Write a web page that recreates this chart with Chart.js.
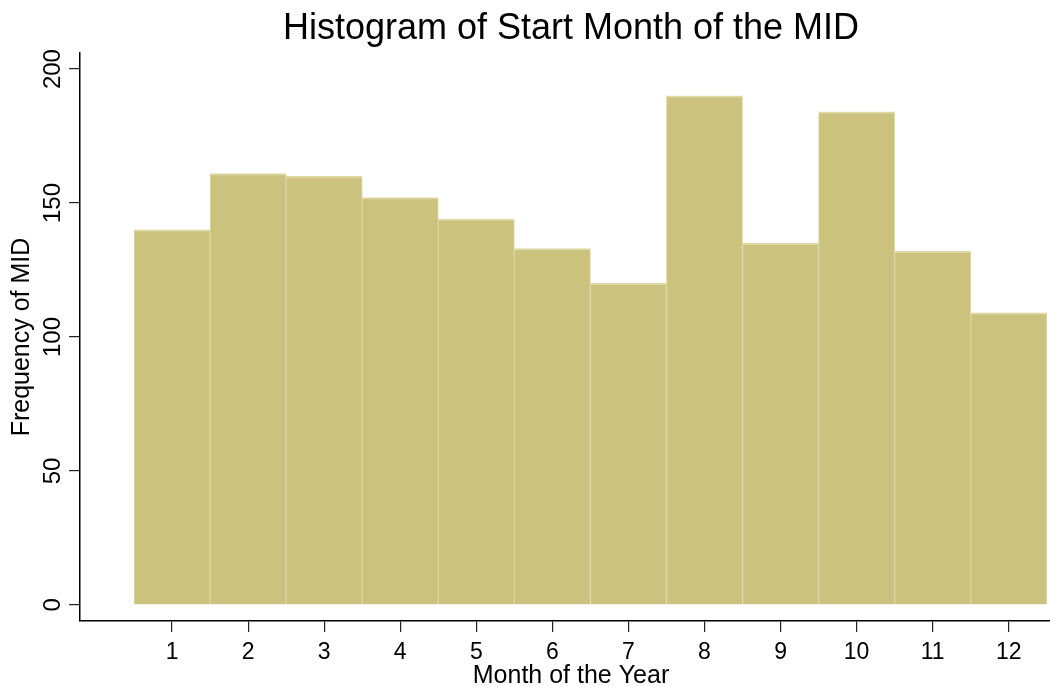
<!DOCTYPE html>
<html>
<head>
<meta charset="utf-8">
<title>Histogram of Start Month of the MID</title>
<script src="https://cdn.jsdelivr.net/npm/chart.js@4"></script>
<style>
    html, body { margin: 0; padding: 0; background: #fff; overflow: hidden; }
    #wrap { width: 1062px; height: 687px; }
</style>
</head>
<body>
<div id="wrap"><canvas id="histChart"></canvas></div>
<script>
const months = [1, 2, 3, 4, 5, 6, 7, 8, 9, 10, 11, 12];
const counts = [140, 161, 160, 152, 144, 133, 120, 190, 135, 184, 132, 109];
const yTicks = [0, 50, 100, 150, 200];

const FONT = '"Liberation Sans", Arial, Helvetica, sans-serif';

// Stata style: title over the plot region, y tick labels turned on their side
const stataText = {
    id: 'stataText',
    afterDraw(chart) {
        const ctx = chart.ctx;
        const area = chart.chartArea;
        const y = chart.scales.y;
        ctx.save();
        ctx.fillStyle = '#000';
        ctx.font = '36px ' + FONT;
        ctx.textAlign = 'center';
        ctx.textBaseline = 'alphabetic';
        ctx.fillText('Histogram of Start Month of the MID', (area.left + area.right) / 2, 39);

        ctx.font = '24px ' + FONT;
        yTicks.forEach(v => {
            ctx.save();
            ctx.translate(60, y.getPixelForValue(v));
            ctx.rotate(-Math.PI / 2);
            ctx.fillText(String(v), 0, 0);
            ctx.restore();
        });
        ctx.restore();
    }
};

new Chart(document.getElementById('histChart'), {
    type: 'bar',
    data: {
        datasets: [{
            label: 'Frequency of MID',
            data: months.map((m, i) => ({ x: m, y: counts[i] })),
            backgroundColor: '#cbc27e',
            borderColor: '#ddd7a2',
            borderWidth: { top: 2, left: 1, right: 1, bottom: 0 },
            borderSkipped: false,
            barPercentage: 1,
            categoryPercentage: 1
        }]
    },
    options: {
        responsive: true,
        maintainAspectRatio: false,
        animation: false,
        layout: { padding: { top: 53, right: 0, bottom: 0, left: 0 } },
        plugins: {
            legend: { display: false },
            title: { display: false },
            tooltip: { enabled: false }
        },
        scales: {
            x: {
                type: 'linear',
                offset: false,
                min: -0.21,
                max: 12.7,
                afterBuildTicks: axis => { axis.ticks = months.map(m => ({ value: m })); },
                afterFit: axis => { axis.height = 66; },
                grid: { offset: false, drawOnChartArea: false, tickLength: 11, color: '#222', lineWidth: 1.2 },
                border: { display: true, color: '#000', width: 1.5 },
                ticks: { color: '#000', font: { family: FONT, size: 23 }, padding: 7, maxRotation: 0, autoSkip: false },
                title: {
                    display: true,
                    text: 'Month of the Year',
                    color: '#000',
                    font: { family: FONT, size: 25, lineHeight: 1 },
                    padding: { top: 0, bottom: -2 }
                }
            },
            y: {
                min: -6,
                max: 206,
                afterBuildTicks: axis => { axis.ticks = yTicks.map(v => ({ value: v })); },
                afterFit: axis => { axis.width = 80; },
                grid: { drawOnChartArea: false, tickLength: 11, color: '#222', lineWidth: 1.2 },
                border: { display: true, color: '#000', width: 1.5 },
                ticks: { color: 'rgba(0,0,0,0)', font: { family: FONT, size: 23 } },
                title: {
                    display: true,
                    text: 'Frequency of MID',
                    color: '#000',
                    font: { family: FONT, size: 25, lineHeight: 1 },
                    padding: { top: 9.5, bottom: 0 }
                }
            }
        }
    },
    plugins: [stataText]
});
</script>
</body>
</html>
